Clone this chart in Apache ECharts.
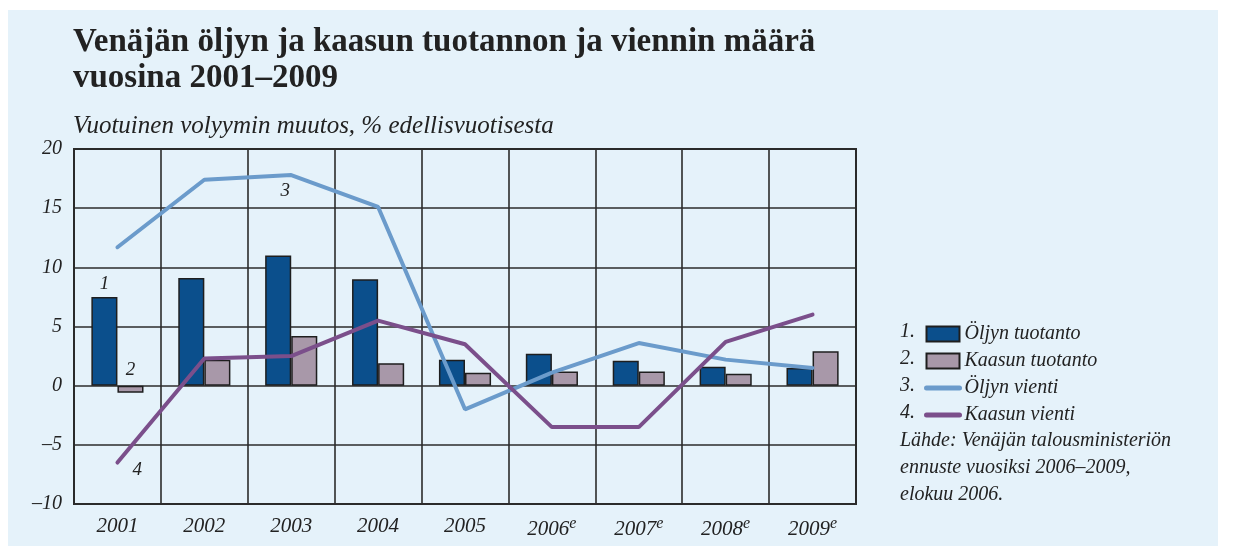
<!DOCTYPE html>
<html>
<head>
<meta charset="utf-8">
<script src="https://cdn.jsdelivr.net/npm/echarts@6/dist/echarts.min.js"></script>
<style>
  html, body { margin: 0; padding: 0; background: #ffffff; }
  #chart { width: 1234px; height: 546px; }
</style>
</head>
<body>
<div id="chart"></div>
<script>
// vuodet, e = ennuste
var years = ['2001', '2002', '2003', '2004', '2005', '2006', '2007', '2008', '2009'];
var isEstimate = [false, false, false, false, false, true, true, true, true];

// vuotuinen volyymin muutos, %
var oilProduction = [7.5, 9.1, 11.0, 9.0, 2.2, 2.7, 2.1, 1.6, 1.5];
var gasProduction = [-0.6, 2.2, 4.2, 1.9, 1.1, 1.2, 1.2, 1.0, 2.9];
var oilExport = [11.7, 17.4, 17.8, 15.1, -2.0, 1.1, 3.6, 2.2, 1.5];
var gasExport = [-6.5, 2.3, 2.5, 5.5, 3.5, -3.5, -3.5, 3.7, 6.0];

var seriesNames = ['Öljyn tuotanto', 'Kaasun tuotanto', 'Öljyn vienti', 'Kaasun vienti'];
var sourceLines = ['Lähde: Venäjän talousministeriön', 'ennuste vuosiksi 2006–2009,', 'elokuu 2006.'];

var serif = '"Liberation Serif", "DejaVu Serif", serif';
var ink = '#222222';

// numeroleima yhteen pisteeseen
function tagged (values, index, tag, label) {
  return values.map(function (v, i) {
    if (i !== index) return v;
    return { value: v, label: Object.assign({ show: true, formatter: tag, fontFamily: serif, fontStyle: 'italic', fontSize: 19, color: ink }, label) };
  });
}

var chart = echarts.init(document.getElementById('chart'));
chart.setOption({
  backgroundColor: '#ffffff',
  animation: false,
  graphic: [
    { type: 'rect', z: -10, shape: { x: 8, y: 10, width: 1210, height: 536 }, style: { fill: '#e5f2fa' } }
  ].concat(['1.', '2.', '3.', '4.'].map(function (t, i) {
    return { type: 'text', left: 900, top: 322 + i * 27, style: { text: t, font: 'italic 20px ' + serif, fill: ink } };
  })).concat(sourceLines.map(function (t, i) {
    return { type: 'text', left: 900, top: 431 + i * 26.7, style: { text: t, font: 'italic 20px ' + serif, fill: ink } };
  })),
  title: [
    {
      text: 'Venäjän öljyn ja kaasun tuotannon ja viennin määrä\nvuosina 2001–2009',
      left: 68, top: 19,
      textStyle: { fontFamily: serif, fontSize: 33, fontWeight: 'bold', color: ink, lineHeight: 36 }
    },
    {
      text: 'Vuotuinen volyymin muutos, % edellisvuotisesta',
      left: 68, top: 109,
      textStyle: { fontFamily: serif, fontSize: 25, fontStyle: 'italic', fontWeight: 'normal', color: ink }
    }
  ],
  legend: {
    orient: 'vertical',
    left: 924, top: 324, padding: 0,
    itemWidth: 33, itemHeight: 15, itemGap: 7, itemTextGap: 5,
    textStyle: { fontFamily: serif, fontSize: 20, fontStyle: 'italic', color: ink },
    data: [
      { name: seriesNames[0], icon: 'rect' },
      { name: seriesNames[1], icon: 'rect' },
      { name: seriesNames[2], itemStyle: { opacity: 0 }, lineStyle: { width: 5, cap: 'round' } },
      { name: seriesNames[3], itemStyle: { opacity: 0 }, lineStyle: { width: 5, cap: 'round' } }
    ]
  },
  grid: {
    left: 74, top: 149, width: 782, height: 355,
    show: true, borderColor: '#2b2b2b', borderWidth: 2, backgroundColor: 'transparent'
  },
  xAxis: {
    type: 'category',
    data: years,
    axisLine: { onZero: false, lineStyle: { color: '#2b2b2b', width: 2 } },
    axisTick: { show: false },
    splitLine: { show: true, lineStyle: { color: '#2b2b2b', width: 1.6 } },
    axisLabel: {
      interval: 0, margin: 12,
      fontFamily: serif, fontSize: 21, fontStyle: 'italic', color: ink,
      formatter: function (v, i) { return isEstimate[i] ? v + '{sup|e}' : v },
      rich: { sup: { fontFamily: serif, fontSize: 16, fontStyle: 'italic', color: ink, verticalAlign: 'top', padding: [0, 0, 10, 0] } }
    }
  },
  yAxis: {
    type: 'value',
    min: -10, max: 20, interval: 5,
    axisLine: { show: false },
    axisTick: { show: false },
    splitLine: { lineStyle: { color: '#2b2b2b', width: 1.6 } },
    axisLabel: {
      margin: 12, fontFamily: serif, fontSize: 20, fontStyle: 'italic', color: ink,
      formatter: function (v) { return String(v).replace('-', '–') }
    }
  },
  series: [
    {
      name: seriesNames[0], type: 'bar', barGap: '0%', barCategoryGap: '40%',
      itemStyle: { color: '#0b4f8c', borderColor: '#1e1e1e', borderWidth: 1.5 },
      data: tagged(oilProduction, 0, '1', { position: 'top', distance: 3 })
    },
    {
      name: seriesNames[1], type: 'bar',
      itemStyle: { color: '#a898a9', borderColor: '#1e1e1e', borderWidth: 1.5 },
      data: tagged(gasProduction, 0, '2', { position: 'top', distance: 6 })
    },
    {
      name: seriesNames[2], type: 'line', symbol: 'circle', symbolSize: 0.01, z: 5,
      itemStyle: { color: '#6b9bcb' },
      lineStyle: { color: '#6b9bcb', width: 4, cap: 'round' },
      data: tagged(oilExport, 2, '3', { position: 'bottom', distance: 6, offset: [-6, 0] })
    },
    {
      name: seriesNames[3], type: 'line', symbol: 'circle', symbolSize: 0.01, z: 6,
      itemStyle: { color: '#7b4f8b' },
      lineStyle: { color: '#7b4f8b', width: 4, cap: 'round' },
      data: tagged(gasExport, 0, '4', { position: 'right', distance: 15, offset: [0, 7] })
    }
  ]
});
</script>
</body>
</html>
